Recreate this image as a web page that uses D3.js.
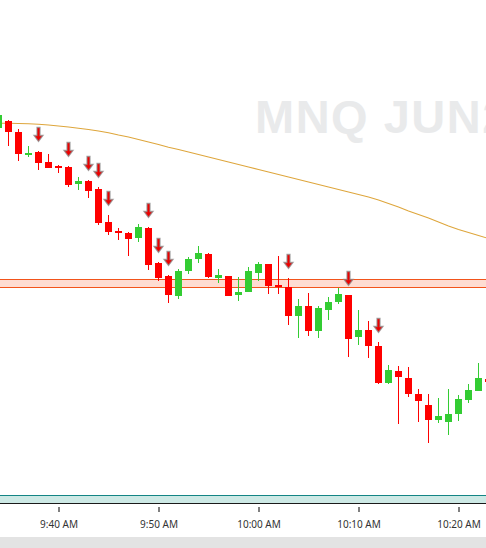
<html>
<head>
  <meta charset="utf-8">
  <title>MNQ 1 minute</title>
  <script src="https://d3js.org/d3.v7.min.js"></script>
  <style>
    body { margin: 0; background: #fff; }
  </style>
</head>
<body>
  <div id="chart"></div>
  <script>
  // one minute bars
  var times = ["9:34","9:35","9:36","9:37","9:38","9:39","9:40","9:41","9:42","9:43",
               "9:44","9:45","9:46","9:47","9:48","9:49","9:50","9:51","9:52","9:53",
               "9:54","9:55","9:56","9:57","9:58","9:59","10:00","10:01","10:02","10:03",
               "10:04","10:05","10:06","10:07","10:08","10:09","10:10","10:11","10:12","10:13",
               "10:14","10:15","10:16","10:17","10:18","10:19","10:20","10:21","10:22","10:23"];
  var open = [12893,12894.75,12892,12886.25,12887,12884.5,12883.5,12883.25,12879,12879.75,
              12877.75,12869.5,12867.25,12866.75,12865.5,12868,12859.25,12856,12851,12857.25,
              12860.25,12861.5,12855.5,12856,12851.25,12852,12856.75,12859,12853.75,12853.25,
              12846,12848.5,12842.25,12847.5,12849.5,12851.25,12840.75,12842.5,12838.5,12829.25,
              12832.25,12830.5,12826.5,12823.75,12820,12819.5,12821.5,12825,12827.25,12830.25];
  var high = [12896.5,12895,12892.75,12888.5,12887.25,12886.5,12883.75,12883.5,12880.75,12880,
              12878.25,12871.25,12868,12867,12869,12868.25,12859.5,12856.25,12857.75,12860.75,
              12863.5,12861.75,12857.75,12856,12855.75,12858.25,12859.5,12859,12861,12855.5,
              12850.25,12851.75,12848.5,12850.75,12853,12851.25,12847.5,12844.75,12839.5,12833.75,
              12833.5,12833.25,12827.75,12826.5,12825.5,12827.75,12826.25,12829,12834.25,12830.5];
  var low = [12892.5,12888.5,12884.75,12885.75,12882.5,12883,12881.75,12878.25,12877.5,12875.5,
             12868.75,12866.25,12865,12861,12864.5,12857.5,12854.75,12849.25,12850.25,12856.5,
             12859.25,12855.5,12854.25,12851,12849.75,12852,12854.75,12851.5,12851.5,12843.75,
             12840.5,12841,12840.5,12845,12849,12835.75,12838.75,12835.5,12829,12829,
             12819,12825.75,12819.5,12814.25,12819.25,12816.25,12819.75,12824.25,12827.25,12829.25];
  var close = [12896.25,12892,12886.5,12886.75,12884.25,12883,12883,12878.75,12879.75,12877.25,
               12869.25,12867,12866.75,12865.25,12868.25,12858.75,12855.5,12851.25,12857.25,12860.25,
               12861.75,12855.75,12856.25,12851,12852,12857.25,12859,12853.5,12853.25,12846,
               12848.5,12842.25,12848,12849.5,12851.5,12840.25,12842.5,12838.5,12829.25,12832.5,
               12830.75,12826.5,12824.75,12820,12821,12821.5,12825.25,12827.5,12830.5,12829.5];
  // moving average
  var sma = [12894.2,12894.18,12894.13,12894.05,12893.93,12893.75,12893.5,12893.25,12892.95,12892.63,
             12892.25,12891.83,12891.25,12890.75,12890.13,12889.5,12888.88,12888.18,12887.63,12887,
             12886.38,12885.75,12885.13,12884.5,12883.88,12883.25,12882.63,12882,12881.38,12880.75,
             12880.13,12879.5,12878.88,12878.25,12877.63,12877,12876.38,12875.75,12875,12874.13,
             12873.25,12872.25,12871.38,12870.5,12869.5,12868.5,12867.63,12866.88,12866.13,12865.38];
  // sell signals
  var signals = ["9:38","9:41","9:43","9:44","9:45","9:49","9:50","9:51","10:03","10:09","10:12"];
  // price zones
  var zone = [12853.25, 12855.25];
  var lowerZone = [12799.25, 12801];
  var watermark = "MNQ JUN23";

  var width = 486, height = 548;
  var parse = d3.timeParse("%H:%M");

  var svg = d3.select("#chart")
    .append("svg")
      .attr("width", width)
      .attr("height", height);

  var data = times.map(function(t, i) {
    return {t: parse(t), o: open[i], h: high[i], l: low[i], c: close[i], ma: sma[i]};
  });

  // scales
  var x = d3.scaleTime()
    .domain([parse("9:40"), parse("10:20")])
    .range([58.5, 458.5]);
  var y = d3.scaleLinear()
    .domain([12925, 12825])
    .range([0, 400]);

  // watermark
  svg.append("text")
    .attr("x", 255)
    .attr("y", 133)
    .style("font-family", "'Liberation Sans', Arial, sans-serif")
    .style("font-weight", "bold")
    .style("font-size", "47px")
    .style("letter-spacing", "1.5px")
    .style("fill", "#e9eaeb")
    .text(watermark);

  // upper zone
  svg.append("rect")
    .attr("x", 0).attr("width", width)
    .attr("y", y(zone[1])).attr("height", y(zone[0]) - y(zone[1]))
    .attr("fill", "#fedcd2");
  svg.selectAll("line.zone")
    .data(zone)
    .enter().append("line")
      .attr("class", "zone")
      .attr("x1", 0).attr("x2", width)
      .attr("y1", function(d) { return y(d) + 0.5; })
      .attr("y2", function(d) { return y(d) + 0.5; })
      .attr("stroke", "#f2541b")
      .attr("stroke-width", 1.2);

  // lower zone
  svg.append("rect")
    .attr("x", 0).attr("width", width)
    .attr("y", y(lowerZone[1])).attr("height", y(lowerZone[0]) - y(lowerZone[1]))
    .attr("fill", "#cde9e5");
  svg.append("line")
    .attr("x1", 0).attr("x2", width)
    .attr("y1", y(lowerZone[1]) - 0.5).attr("y2", y(lowerZone[1]) - 0.5)
    .attr("stroke", "#138585");
  svg.append("line")
    .attr("x1", 0).attr("x2", width)
    .attr("y1", y(lowerZone[0]) + 0.5).attr("y2", y(lowerZone[0]) + 0.5)
    .attr("stroke", "#1a1a1a");

  // moving average
  svg.append("path")
    .datum(data)
    .attr("fill", "none")
    .attr("stroke", "#dea63c")
    .attr("stroke-width", 1.1)
    .attr("d", d3.line()
      .x(function(d) { return x(d.t); })
      .y(function(d) { return y(d.ma); }));

  function col(d) { return d.c >= d.o ? "#33cc33" : "#ff0000"; }

  // wicks
  svg.append("g")
    .selectAll("line")
    .data(data)
    .enter().append("line")
      .attr("x1", function(d) { return x(d.t); })
      .attr("x2", function(d) { return x(d.t); })
      .attr("y1", function(d) { return y(d.h); })
      .attr("y2", function(d) { return y(d.l); })
      .attr("stroke", col)
      .attr("stroke-width", 1);

  // bodies
  svg.append("g")
    .selectAll("rect")
    .data(data)
    .enter().append("rect")
      .attr("x", function(d) { return x(d.t) - 3.5; })
      .attr("width", 7)
      .attr("y", function(d) { return y(Math.max(d.o, d.c)); })
      .attr("height", function(d) { return Math.max(2, Math.abs(y(d.o) - y(d.c))); })
      .attr("fill", col);

  // signal arrows
  var sig = data.filter(function(d) { return signals.indexOf(d3.timeFormat("%-H:%M")(d.t)) >= 0; });
  svg.append("g")
    .selectAll("path")
    .data(sig)
    .enter().append("path")
      .attr("d", function(d) {
        var cx = x(d.t), ty = y(d.h) - 9.5;
        return "M" + (cx - 1.5) + "," + (ty - 14) + "L" + (cx + 1.5) + "," + (ty - 14) +
               "L" + (cx + 1.5) + "," + (ty - 6) + "L" + (cx + 4.5) + "," + (ty - 6) +
               "L" + cx + "," + ty + "L" + (cx - 4.5) + "," + (ty - 6) +
               "L" + (cx - 1.5) + "," + (ty - 6) + "Z";
      })
      .attr("fill", "#ee0000")
      .attr("stroke", "#8c8c8c")
      .attr("stroke-opacity", 0.75)
      .attr("stroke-width", 1.3);

  // time axis
  var axis = svg.append("g")
    .attr("transform", "translate(0,507)")
    .call(d3.axisBottom(x)
      .ticks(d3.timeMinute.every(10))
      .tickFormat(d3.timeFormat("%-I:%M %p"))
      .tickSize(5)
      .tickPadding(9));
  axis.select(".domain").remove();
  axis.selectAll("line").attr("stroke", "#000");
  axis.selectAll("text")
    .style("font-family", "'Noto Sans', sans-serif")
    .style("font-size", "10px")
    .attr("fill", "#333");

  // scroll bar strip
  svg.append("rect")
    .attr("x", 0).attr("y", 537)
    .attr("width", width).attr("height", 11)
    .attr("fill", "#e3e3e3");
  </script>
</body>
</html>
